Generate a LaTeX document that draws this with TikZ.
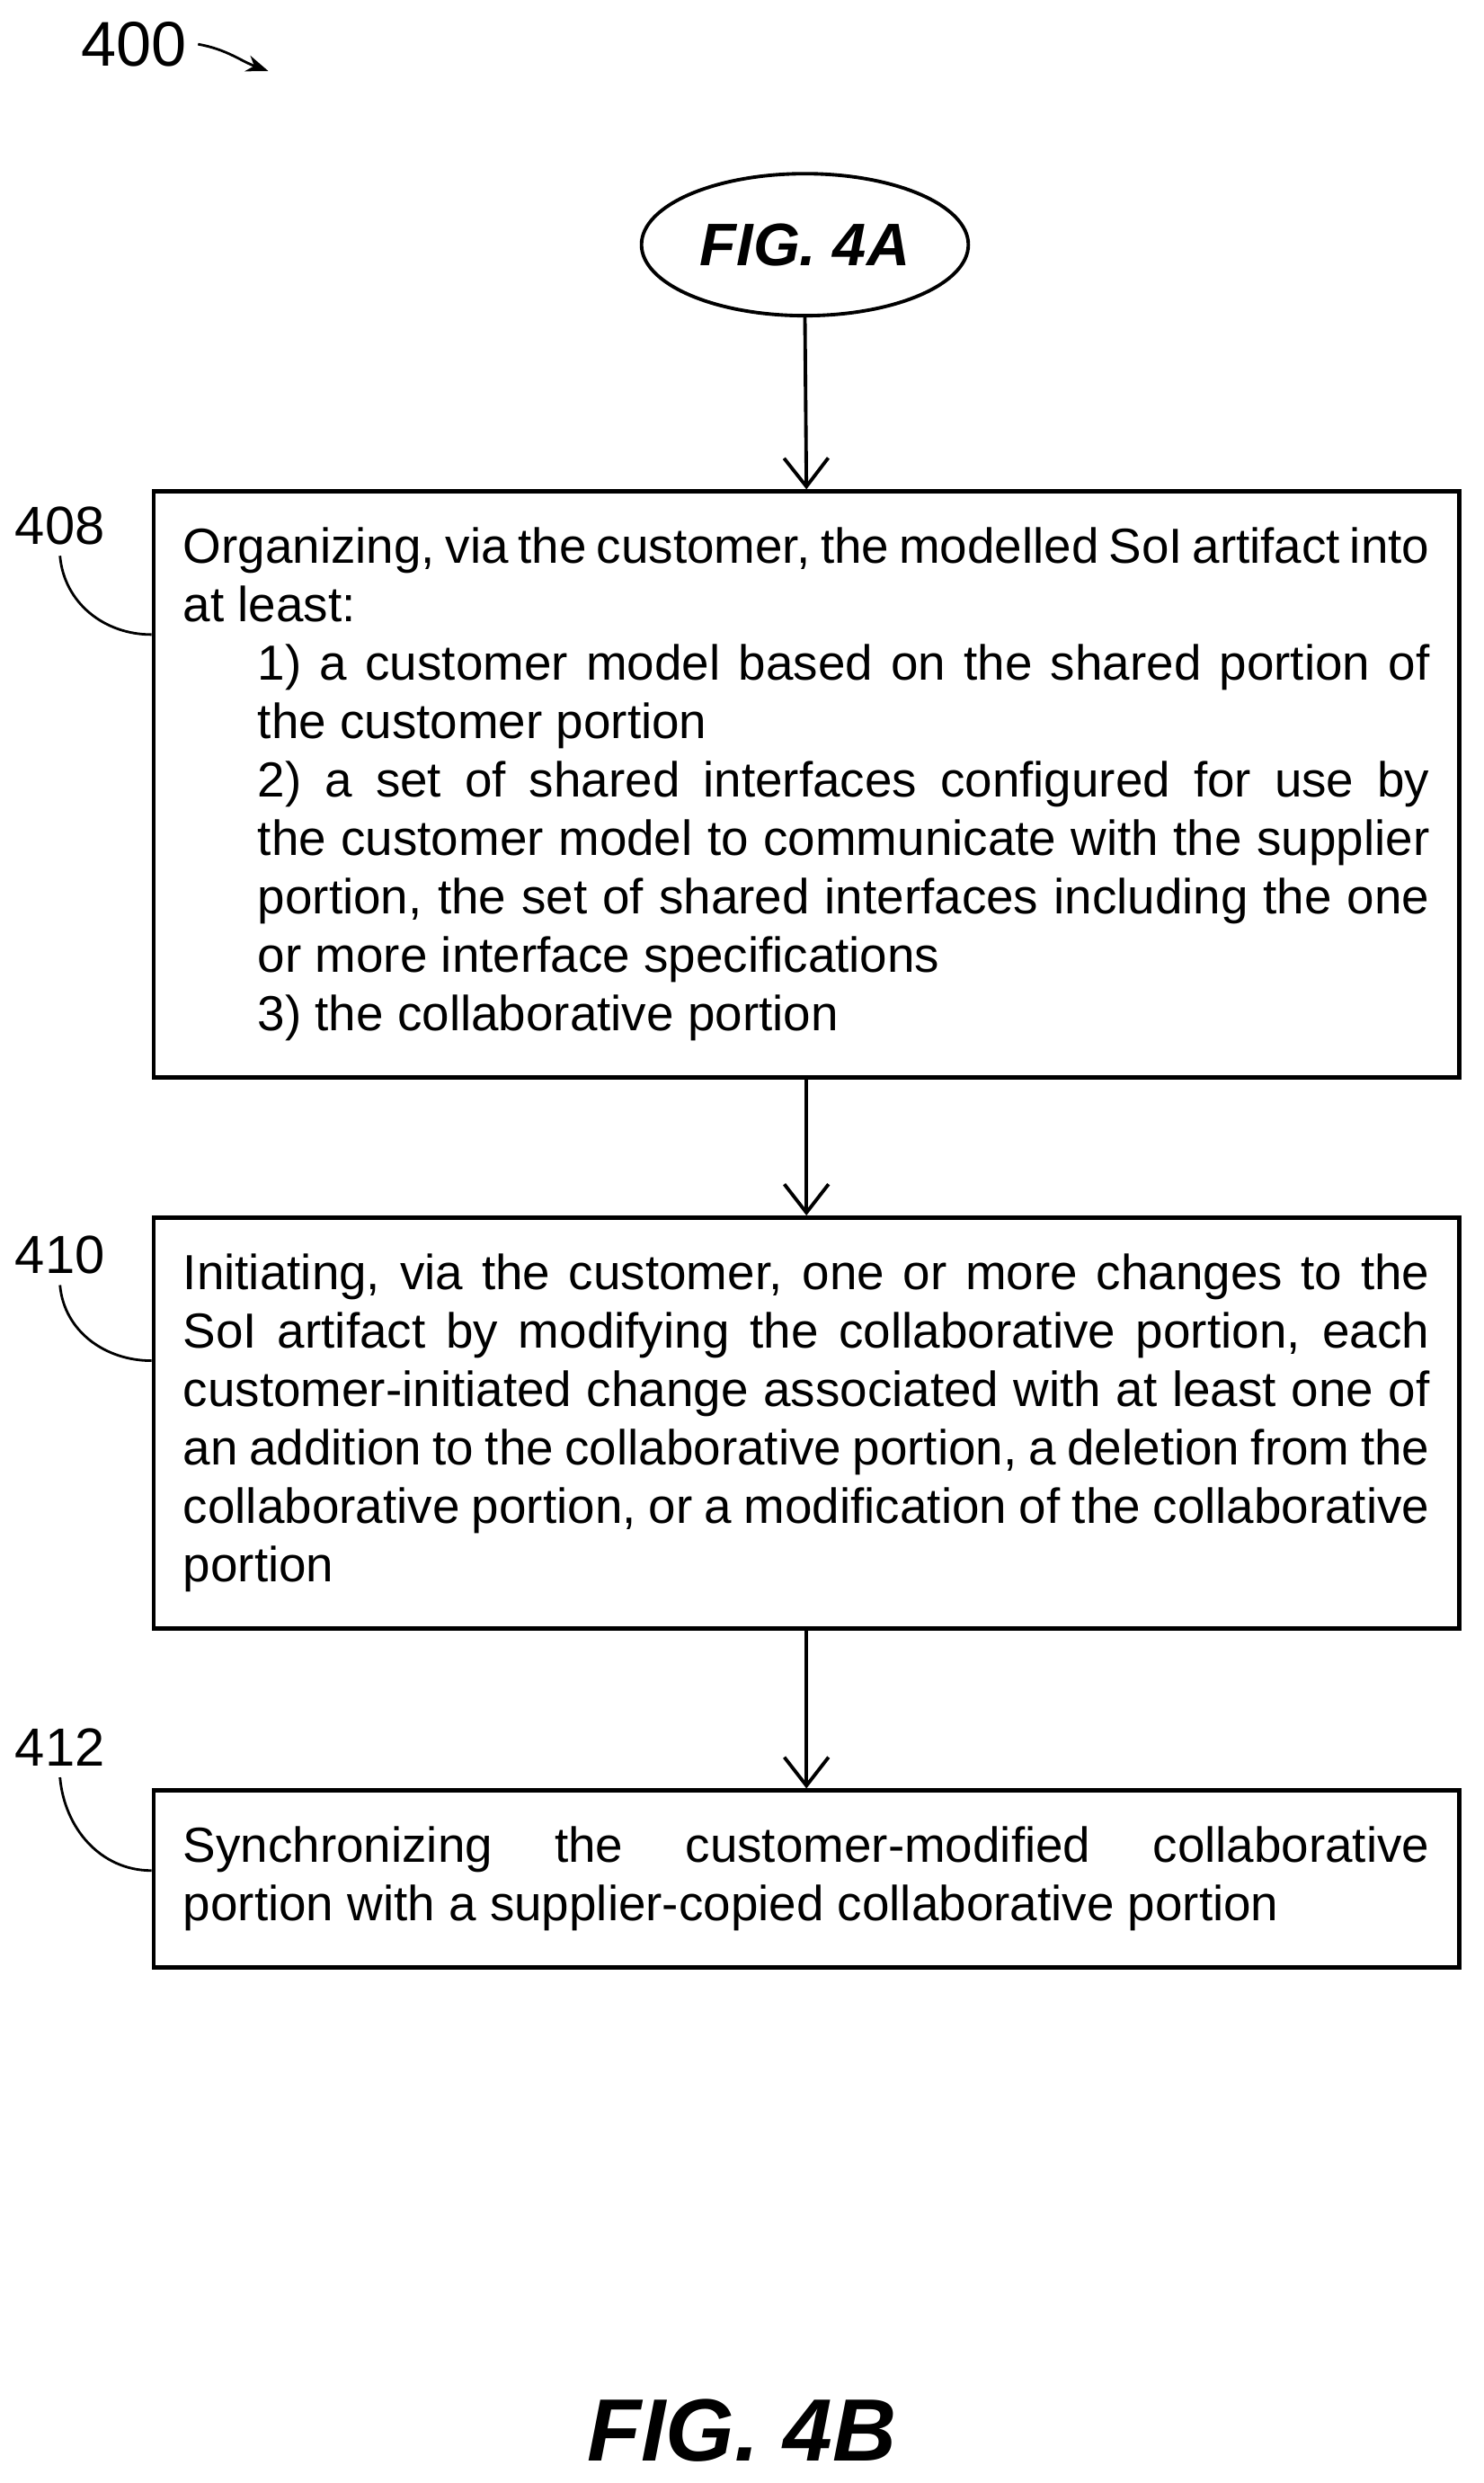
\documentclass[tikz,border=0pt]{standalone}
\usepackage{fontspec}
\setmainfont{Liberation Sans}
\usetikzlibrary{positioning, calc, arrows.meta, shapes.geometric}
\hyphenpenalty=10000
\exhyphenpenalty=10000

\tikzset{
  stepbox/.style={draw, line width=1.3pt, text width=13.87cm, inner xsep=0.33cm,
    align=justify, anchor=north west, font=\fontsize{15.6}{18.5}\selectfont},
  reflabel/.style={font=\fontsize{17}{19}\selectfont},
  flow/.style={-{Straight Barb[length=9pt,width=14pt]}, line width=1.1pt},
  lead/.style={line width=0.8pt}
}

\begin{document}
\begin{tikzpicture}[x=0.01756cm, y=-0.01756cm]
  \useasboundingbox (0,0) rectangle (940,1573);

  % figure number and start connector
  \node[reflabel, font=\fontsize{20}{22}\selectfont] (n400) at (85,28) {400};
  \coordinate (n400end) at (170,45);
  \draw[lead, -{Stealth[length=7pt]}] (n400.east) to[out=-10,in=160] (n400end);

  \node[draw, ellipse, line width=1.1pt, minimum width=3.34cm, minimum height=1.58cm,
    font=\fontsize{19}{22}\selectfont\bfseries\itshape] (fig4a) at (510,155) {FIG. 4A};

  % steps
  \node[stepbox, minimum height=6.52cm] (b408) at (96,310) {Organizing, via the customer, the modelled SoI artifact into at least:\par
    {\leftskip=0.83cm 1) a customer model based on the shared portion of the customer portion\par
    2) a set of shared interfaces configured for use by the customer model to communicate with the supplier portion, the set of shared interfaces including the one or more interface specifications\par
    3) the collaborative portion\par}};
  \node[stepbox, minimum height=4.57cm] (b410) at (96,770) {Initiating, via the customer, one or more changes to the SoI artifact by modifying the collaborative portion, each customer-initiated change associated with at least one of an addition to the collaborative portion, a deletion from the collaborative portion, or a modification of the collaborative portion};
  \node[stepbox, minimum height=1.97cm] (b412) at (96,1133) {Synchronizing the customer-modified collaborative portion with a supplier-copied collaborative portion};

  \draw[flow] (fig4a.south) -- (b408.north);
  \draw[flow] (b408.south) -- (b410.north);
  \draw[flow] (b410.south) -- (b412.north);

  % reference labels
  \node[reflabel] (l408) at (38,333) {408};
  \node[reflabel] (l410) at (38,795) {410};
  \node[reflabel] (l412) at (38,1107) {412};
  \draw[lead] (l408.south) to[out=-85,in=180] ($(b408.north west)+(0,92)$);
  \draw[lead] (l410.south) to[out=-85,in=180] ($(b410.north west)+(0,92)$);
  \draw[lead] (l412.south) to[out=-85,in=180] ($(b412.north west)+(0,52)$);

  \node[font=\fontsize{28}{30}\selectfont\bfseries\itshape] (fig4b) at (470,1540) {FIG. 4B};
\end{tikzpicture}
\end{document}
